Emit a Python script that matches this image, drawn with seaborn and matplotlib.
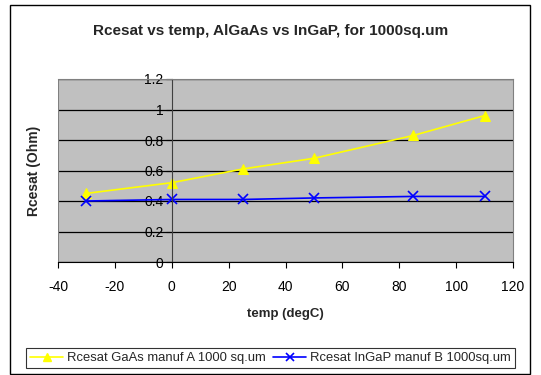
import matplotlib
matplotlib.use("Agg")
import matplotlib.pyplot as plt
import seaborn as sns
import pandas as pd
from matplotlib.patches import Rectangle
from matplotlib.lines import Line2D

temps = [-30, 0, 25, 50, 85, 110]
gaas = [0.45, 0.52, 0.61, 0.68, 0.83, 0.96]
ingap = [0.40, 0.41, 0.41, 0.42, 0.43, 0.43]
name_a = "Rcesat GaAs manuf A 1000 sq.um"
name_b = "Rcesat InGaP manuf B 1000sq.um"

df_a = pd.DataFrame({"temp": temps, "val": gaas})
df_b = pd.DataFrame({"temp": temps, "val": ingap})

sns.set_style("white")
plt.rcParams['font.family'] = ['Liberation Sans', 'DejaVu Sans']
plt.rcParams['axes.unicode_minus'] = False

fig = plt.figure(figsize=(5.41, 3.75), dpi=100)
fig.patches.append(Rectangle((10/541, 0.002), 520/541, 1 - 5/375 - 0.002, transform=fig.transFigure,
                             fill=False, edgecolor='black', linewidth=1))
ax = fig.add_axes([58/541, 1 - 262/375, (513 - 58)/541, (262 - 79)/375])
ax.set_facecolor('#C0C0C0')

sns.lineplot(data=df_a, x="temp", y="val", color='#FFFF00', marker='^',
             markersize=7, markeredgecolor='#FFFF00', linewidth=1.2, ax=ax)
sns.lineplot(data=df_b, x="temp", y="val", color='#0000FF', marker='x',
             markersize=7, markeredgecolor='#0000FF', markeredgewidth=1.2, linewidth=1.2, ax=ax)

ax.set_xlim(-40, 120)
ax.set_ylim(0, 1.2)
ax.set_xticks(range(-40, 121, 20))
ax.set_yticks([0, 0.2, 0.4, 0.6, 0.8, 1.0, 1.2])
ax.set_yticklabels(['0', '0.2', '0.4', '0.6', '0.8', '1', '1.2'])
ax.yaxis.grid(True, color='black', linewidth=0.9)
ax.set_axisbelow(True)

for s in ['top', 'right']:
    ax.spines[s].set_color('#808080')
ax.spines['left'].set_position(('data', 0))
ax.spines['left'].set_color('#404040')
ax.spines['bottom'].set_color('black')
ax.spines['bottom'].set_zorder(3)
ax.axvline(-40, color='#808080', linewidth=1.5)

ax.tick_params(axis='both', which='both', direction='out', length=4, width=0.8,
               colors='black', labelsize=10, left=True, bottom=True)
ax.tick_params(axis='x', pad=9)
ax.tick_params(axis='y', pad=2)

ax.set_xlabel("temp (degC)", fontsize=9.5, fontweight='bold', labelpad=10)
ax.set_ylabel("Rcesat (Ohm)", fontsize=10, fontweight='bold')
ax.yaxis.set_label_coords(-0.038, 0.5)

fig.text(0.5, 1 - 31/375, "Rcesat vs temp, AlGaAs vs InGaP, for 1000sq.um",
         ha='center', va='center', fontsize=11, fontweight='bold')

handles = [Line2D([], [], color='#FFFF00', marker='^', markersize=6, linewidth=1.2),
           Line2D([], [], color='#0000FF', marker='x', markersize=6, linewidth=1.2, markeredgewidth=1.2)]
leg = fig.legend(handles, [name_a, name_b], loc='center', bbox_to_anchor=(0.5, 1 - 358/375),
                 ncol=2, frameon=True, fontsize=9.4, fancybox=False, handlelength=2.5,
                 handletextpad=0.3, columnspacing=0.6, borderpad=0.3)
leg.get_frame().set_edgecolor('black')
leg.get_frame().set_linewidth(0.8)

fig.savefig("out.png", dpi=100)
